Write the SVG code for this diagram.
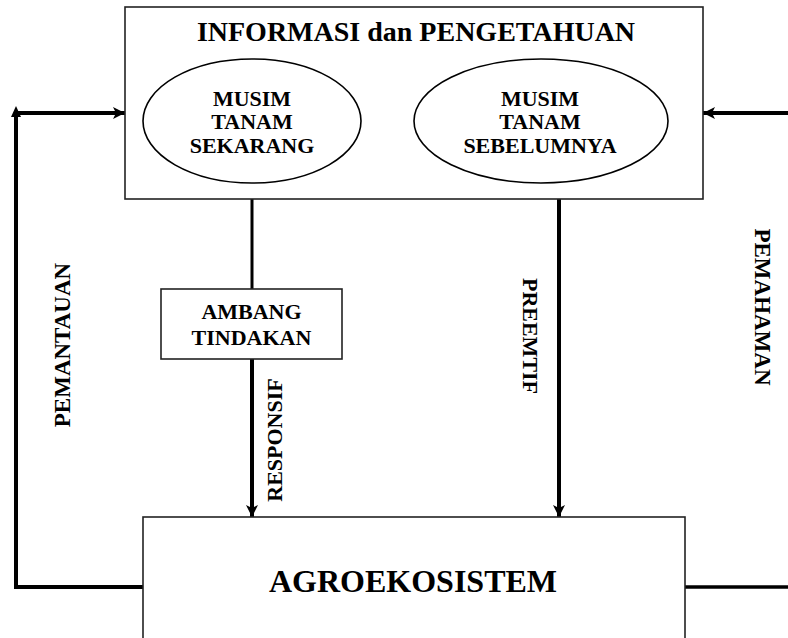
<svg xmlns="http://www.w3.org/2000/svg" width="788" height="638" viewBox="0 0 788 638">
<style>
text{font-family:"Liberation Serif","Times New Roman",serif;font-weight:bold;fill:#000;text-anchor:middle}
.box{fill:#fff;stroke:#222;stroke-width:1.6}
.ell{fill:#fff;stroke:#000;stroke-width:1.6}
.c{fill:none;stroke:#000;stroke-width:4}
.t{font-size:22px}
</style>
<defs>
<marker id="ah" viewBox="0 0 12 12" refX="12" refY="6" markerWidth="12" markerHeight="12" markerUnits="userSpaceOnUse" orient="auto">
<path d="M0,0 L12,6 L0,12 L3,6 Z" fill="#000"/>
</marker>
</defs>
<rect width="788" height="638" fill="#fff"/>
<g id="connectors">
<line class="c" x1="252" y1="199" x2="252" y2="289" style="stroke-width:3"/>
<line class="c" x1="252" y1="359" x2="252" y2="517" marker-end="url(#ah)"/>
<line class="c" x1="559" y1="199" x2="559" y2="517" marker-end="url(#ah)"/>
<polyline class="c" points="143,587 16,587 16,116"/>
<path d="M16,106 L21,117 L11,117 Z" fill="#000"/>
<line class="c" x1="16" y1="113" x2="125" y2="113" marker-end="url(#ah)"/>
<line class="c" x1="685" y1="587" x2="788" y2="587" style="stroke-width:3.5"/>
<line class="c" x1="788" y1="113" x2="703" y2="113" marker-end="url(#ah)"/>
<text class="t" transform="translate(70,345) rotate(-90)" style="font-size:23px">PEMANTAUAN</text>
<text class="t" transform="translate(282,440) rotate(-90)">RESPONSIF</text>
<text class="t" transform="translate(523,336) rotate(90)">PREEMTIF</text>
<text class="t" transform="translate(755,307) rotate(90)" style="font-size:23px">PEMAHAMAN</text>
</g>
<g id="informasi">
<rect class="box" x="125" y="7" width="578" height="192"/>
<text x="416" y="41" style="font-size:28px">INFORMASI dan PENGETAHUAN</text>
</g>
<g id="musim-sekarang">
<ellipse class="ell" cx="252" cy="121" rx="109" ry="62"/>
<text class="t" x="252" y="106">MUSIM</text>
<text class="t" x="252" y="129">TANAM</text>
<text class="t" x="252" y="153">SEKARANG</text>
</g>
<g id="musim-sebelumnya">
<ellipse class="ell" cx="541" cy="121" rx="127" ry="62"/>
<text class="t" x="540" y="106">MUSIM</text>
<text class="t" x="540" y="129">TANAM</text>
<text class="t" x="540" y="153">SEBELUMNYA</text>
</g>
<g id="ambang">
<rect class="box" x="161" y="289" width="181" height="70"/>
<text class="t" x="251.5" y="319">AMBANG</text>
<text class="t" x="251.5" y="345">TINDAKAN</text>
</g>
<g id="agroekosistem">
<rect class="box" x="143" y="517" width="542" height="130"/>
<text x="413" y="592" style="font-size:32px">AGROEKOSISTEM</text>
</g>
</svg>
